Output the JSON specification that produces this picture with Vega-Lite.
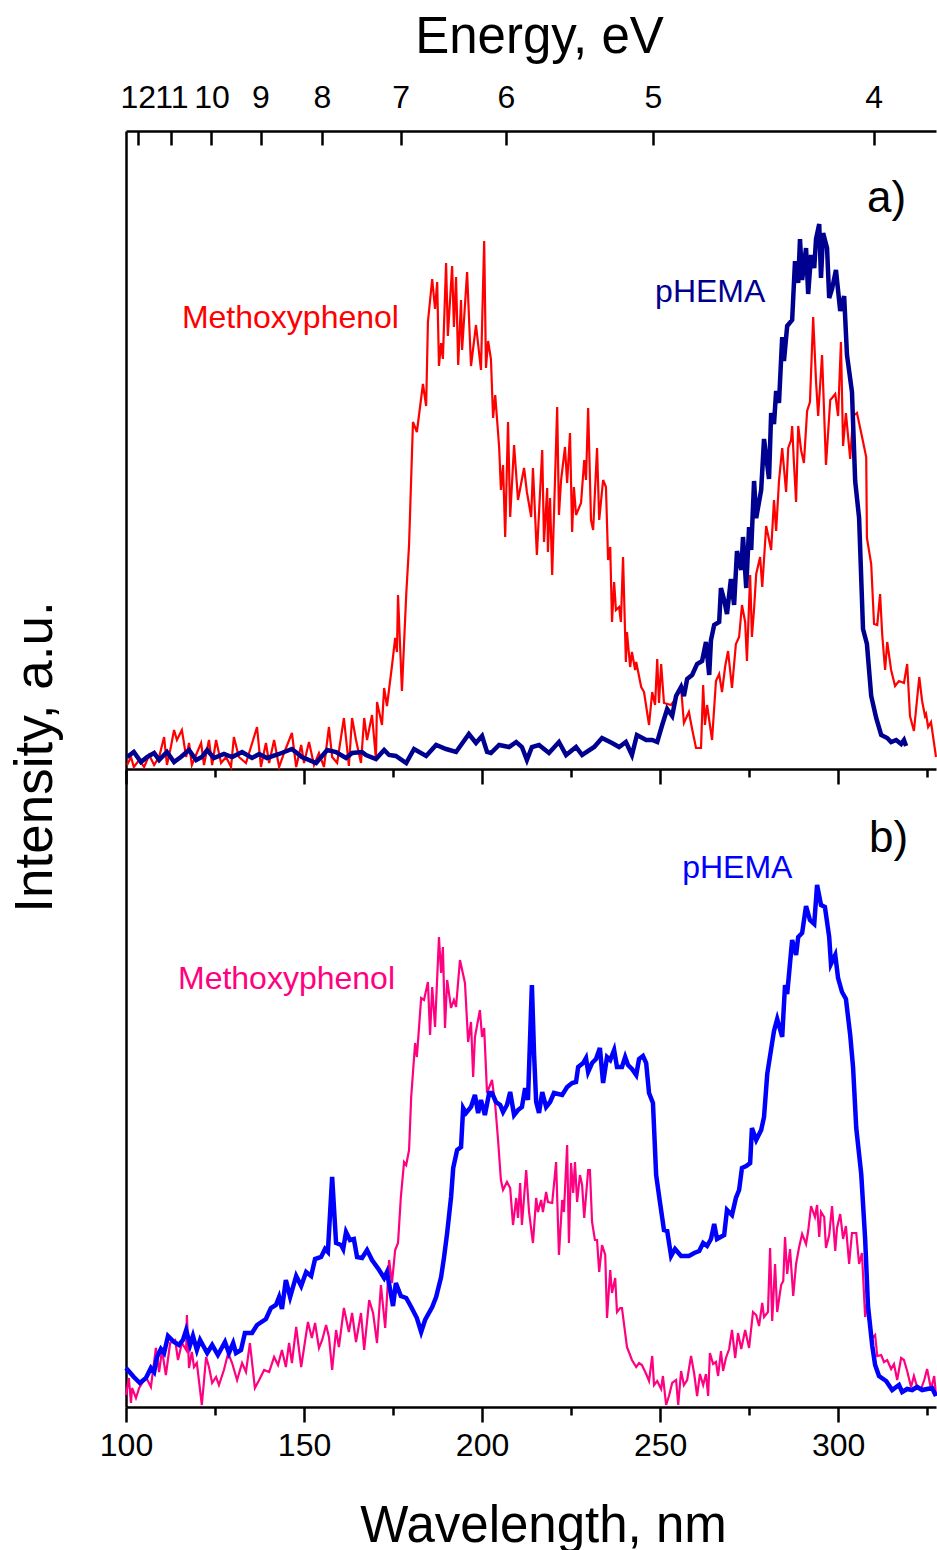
{
  "$schema": "https://vega.github.io/schema/vega-lite/v6.json",
  "padding": {"left": 10, "top": 11, "right": 0, "bottom": 0},
  "background": "white",
  "title": {"text": "Intensity, a.u.", "orient": "left", "anchor": "middle", "fontSize": 53, "fontWeight": "normal", "font": "Liberation Sans", "color": "black", "offset": 36, "dx": 24},
  "config": {
    "view": {"stroke": null},
    "font": "Liberation Sans",
    "axis": {"domainColor": "black", "tickColor": "black", "labelColor": "black", "titleColor": "black", "labelFont": "Liberation Sans", "titleFont": "Liberation Sans", "titleFontWeight": "normal", "grid": false, "labelFlush": false, "labelOverlap": false, "labelBound": false, "domainWidth": 2.5, "tickWidth": 2.5}
  },
  "datasets": {
    "meth_a": [
      {"nm":100.3,"i":4},{"nm":101.4,"i":12},{"nm":102.2,"i":2},{"nm":103.7,"i":9},{"nm":105.1,"i":2},{"nm":106.5,"i":14},{"nm":107.9,"i":4},{"nm":109.3,"i":12},{"nm":110.7,"i":32},{"nm":111.5,"i":4},{"nm":112.6,"i":22},{"nm":113.5,"i":39},{"nm":114.3,"i":29},{"nm":115.7,"i":39},{"nm":116.9,"i":12},{"nm":117.7,"i":26},{"nm":118.5,"i":4},{"nm":119.9,"i":16},{"nm":121.1,"i":26},{"nm":121.9,"i":4},{"nm":123.3,"i":29},{"nm":124.2,"i":4},{"nm":125.3,"i":29},{"nm":126.7,"i":6},{"nm":128.1,"i":12},{"nm":129.5,"i":2},{"nm":130.3,"i":32},{"nm":131.7,"i":12},{"nm":133.7,"i":6},{"nm":135.1,"i":22},{"nm":136.8,"i":42},{"nm":137.9,"i":2},{"nm":139.3,"i":26},{"nm":140.2,"i":6},{"nm":141.6,"i":29},{"nm":143.0,"i":2},{"nm":144.4,"i":16},{"nm":146.6,"i":36},{"nm":147.8,"i":2},{"nm":149.2,"i":24},{"nm":150.0,"i":6},{"nm":151.4,"i":27},{"nm":152.8,"i":4},{"nm":154.2,"i":16},{"nm":155.6,"i":2},{"nm":157.0,"i":42},{"nm":157.9,"i":12},{"nm":159.3,"i":6},{"nm":161.2,"i":51},{"nm":162.6,"i":3},{"nm":163.5,"i":51},{"nm":164.6,"i":29},{"nm":166.0,"i":6},{"nm":166.9,"i":51},{"nm":167.7,"i":29},{"nm":169.1,"i":54},{"nm":170.2,"i":10},{"nm":170.5,"i":67},{"nm":171.9,"i":44},{"nm":172.5,"i":81},{"nm":173.3,"i":63},{"nm":174.7,"i":103},{"nm":175.6,"i":131},{"nm":176.1,"i":117},{"nm":176.4,"i":174},{"nm":177.5,"i":78},{"nm":178.7,"i":174},{"nm":179.5,"i":224},{"nm":180.6,"i":347},{"nm":181.7,"i":337},{"nm":183.4,"i":385},{"nm":184.3,"i":363},{"nm":184.8,"i":447},{"nm":186.0,"i":490},{"nm":186.8,"i":460},{"nm":187.4,"i":487},{"nm":187.9,"i":403},{"nm":188.5,"i":426},{"nm":189.0,"i":410},{"nm":189.9,"i":506},{"nm":190.4,"i":433},{"nm":191.6,"i":503},{"nm":192.1,"i":442},{"nm":192.7,"i":492},{"nm":193.3,"i":404},{"nm":194.1,"i":469},{"nm":194.4,"i":419},{"nm":195.8,"i":497},{"nm":196.9,"i":403},{"nm":198.3,"i":444},{"nm":199.7,"i":399},{"nm":200.6,"i":528},{"nm":201.1,"i":401},{"nm":201.7,"i":428},{"nm":202.5,"i":410},{"nm":203.1,"i":351},{"nm":203.7,"i":374},{"nm":204.8,"i":322},{"nm":205.3,"i":279},{"nm":205.9,"i":304},{"nm":206.5,"i":232},{"nm":207.3,"i":347},{"nm":207.9,"i":252},{"nm":209.0,"i":324},{"nm":210.1,"i":269},{"nm":211.8,"i":301},{"nm":212.6,"i":277},{"nm":213.8,"i":252},{"nm":214.3,"i":301},{"nm":215.4,"i":214},{"nm":216.9,"i":319},{"nm":217.4,"i":227},{"nm":218.3,"i":281},{"nm":218.5,"i":217},{"nm":219.1,"i":271},{"nm":219.7,"i":194},{"nm":221.1,"i":362},{"nm":221.6,"i":254},{"nm":222.2,"i":289},{"nm":223.3,"i":322},{"nm":223.9,"i":286},{"nm":224.7,"i":336},{"nm":225.3,"i":237},{"nm":225.8,"i":282},{"nm":226.4,"i":254},{"nm":227.8,"i":266},{"nm":228.7,"i":309},{"nm":229.2,"i":289},{"nm":229.8,"i":361},{"nm":230.6,"i":249},{"nm":231.2,"i":239},{"nm":232.3,"i":321},{"nm":232.9,"i":249},{"nm":234.0,"i":289},{"nm":234.8,"i":282},{"nm":235.4,"i":209},{"nm":236.0,"i":222},{"nm":236.5,"i":147},{"nm":237.1,"i":187},{"nm":237.6,"i":159},{"nm":238.5,"i":162},{"nm":239.0,"i":147},{"nm":239.6,"i":212},{"nm":240.4,"i":107},{"nm":240.7,"i":137},{"nm":241.6,"i":102},{"nm":242.1,"i":117},{"nm":243.0,"i":99},{"nm":243.3,"i":107},{"nm":244.7,"i":82},{"nm":245.5,"i":77},{"nm":246.9,"i":44},{"nm":247.8,"i":77},{"nm":248.6,"i":64},{"nm":249.2,"i":110},{"nm":249.7,"i":66},{"nm":250.3,"i":105},{"nm":251.1,"i":66},{"nm":253.1,"i":64},{"nm":254.5,"i":71},{"nm":255.9,"i":81},{"nm":256.7,"i":46},{"nm":258.1,"i":57},{"nm":259.0,"i":40},{"nm":260.1,"i":21},{"nm":261.5,"i":21},{"nm":262.1,"i":84},{"nm":262.6,"i":44},{"nm":263.2,"i":64},{"nm":264.6,"i":29},{"nm":265.7,"i":88},{"nm":266.6,"i":95},{"nm":267.4,"i":77},{"nm":268.3,"i":103},{"nm":269.1,"i":118},{"nm":270.2,"i":81},{"nm":271.3,"i":125},{"nm":272.2,"i":132},{"nm":273.0,"i":164},{"nm":273.9,"i":147},{"nm":274.4,"i":108},{"nm":275.3,"i":194},{"nm":275.8,"i":132},{"nm":276.4,"i":160},{"nm":277.0,"i":195},{"nm":278.1,"i":212},{"nm":278.7,"i":182},{"nm":279.8,"i":243},{"nm":280.1,"i":238},{"nm":281.2,"i":219},{"nm":282.0,"i":269},{"nm":282.6,"i":238},{"nm":283.4,"i":288},{"nm":284.3,"i":321},{"nm":285.4,"i":277},{"nm":286.0,"i":321},{"nm":286.8,"i":329},{"nm":287.1,"i":343},{"nm":287.6,"i":306},{"nm":288.2,"i":267},{"nm":288.8,"i":343},{"nm":289.6,"i":319},{"nm":290.4,"i":306},{"nm":291.3,"i":358},{"nm":292.1,"i":367},{"nm":293.0,"i":452},{"nm":293.8,"i":388},{"nm":294.4,"i":353},{"nm":295.5,"i":414},{"nm":296.6,"i":304},{"nm":297.8,"i":369},{"nm":298.3,"i":371},{"nm":299.2,"i":375},{"nm":300.0,"i":353},{"nm":300.8,"i":427},{"nm":301.4,"i":323},{"nm":302.2,"i":356},{"nm":303.4,"i":310},{"nm":304.2,"i":353},{"nm":305.3,"i":356},{"nm":306.5,"i":336},{"nm":307.9,"i":312},{"nm":308.1,"i":231},{"nm":309.3,"i":205},{"nm":310.1,"i":145},{"nm":311.0,"i":144},{"nm":311.8,"i":175},{"nm":312.4,"i":134},{"nm":313.2,"i":99},{"nm":313.8,"i":127},{"nm":314.9,"i":99},{"nm":316.0,"i":83},{"nm":317.1,"i":88},{"nm":318.5,"i":86},{"nm":319.4,"i":105},{"nm":320.2,"i":53},{"nm":321.3,"i":38},{"nm":322.8,"i":92},{"nm":323.6,"i":68},{"nm":324.4,"i":53},{"nm":324.7,"i":55},{"nm":325.3,"i":42},{"nm":326.1,"i":47},{"nm":327.5,"i":12}
    ],
    "phema_a": [
      {"nm":100.3,"i":12},{"nm":102.2,"i":17},{"nm":104.2,"i":7},{"nm":105.9,"i":12},{"nm":107.9,"i":16},{"nm":109.3,"i":9},{"nm":111.5,"i":17},{"nm":113.5,"i":7},{"nm":115.4,"i":12},{"nm":117.7,"i":19},{"nm":119.7,"i":9},{"nm":121.3,"i":12},{"nm":122.8,"i":19},{"nm":124.7,"i":11},{"nm":127.5,"i":15},{"nm":129.8,"i":12},{"nm":132.6,"i":17},{"nm":135.4,"i":11},{"nm":137.4,"i":15},{"nm":139.6,"i":11},{"nm":143.0,"i":15},{"nm":146.6,"i":20},{"nm":149.4,"i":12},{"nm":153.4,"i":6},{"nm":156.5,"i":19},{"nm":159.0,"i":17},{"nm":161.8,"i":11},{"nm":163.5,"i":16},{"nm":166.3,"i":17},{"nm":167.4,"i":14},{"nm":170.2,"i":10},{"nm":172.5,"i":19},{"nm":173.9,"i":14},{"nm":175.8,"i":13},{"nm":178.7,"i":6},{"nm":180.9,"i":20},{"nm":184.3,"i":13},{"nm":187.1,"i":24},{"nm":189.9,"i":20},{"nm":192.7,"i":17},{"nm":194.9,"i":28},{"nm":196.3,"i":35},{"nm":198.3,"i":26},{"nm":200.0,"i":33},{"nm":201.4,"i":17},{"nm":202.5,"i":16},{"nm":204.8,"i":24},{"nm":207.6,"i":22},{"nm":209.6,"i":27},{"nm":211.2,"i":22},{"nm":212.6,"i":9},{"nm":214.0,"i":22},{"nm":216.0,"i":24},{"nm":218.8,"i":16},{"nm":221.6,"i":27},{"nm":223.6,"i":14},{"nm":226.4,"i":22},{"nm":228.1,"i":14},{"nm":231.5,"i":22},{"nm":233.7,"i":31},{"nm":236.5,"i":26},{"nm":238.5,"i":22},{"nm":240.4,"i":27},{"nm":242.1,"i":14},{"nm":243.5,"i":34},{"nm":246.1,"i":29},{"nm":247.8,"i":29},{"nm":249.2,"i":27},{"nm":250.6,"i":44},{"nm":252.0,"i":60},{"nm":253.4,"i":53},{"nm":254.5,"i":73},{"nm":255.9,"i":82},{"nm":256.7,"i":73},{"nm":257.6,"i":90},{"nm":259.0,"i":94},{"nm":260.4,"i":105},{"nm":261.8,"i":108},{"nm":262.9,"i":127},{"nm":263.8,"i":94},{"nm":264.3,"i":129},{"nm":265.2,"i":144},{"nm":266.6,"i":147},{"nm":267.1,"i":181},{"nm":268.0,"i":169},{"nm":268.8,"i":155},{"nm":269.9,"i":190},{"nm":270.8,"i":164},{"nm":271.6,"i":218},{"nm":272.8,"i":199},{"nm":273.3,"i":232},{"nm":274.2,"i":181},{"nm":275.0,"i":242},{"nm":275.6,"i":219},{"nm":276.4,"i":288},{"nm":277.0,"i":251},{"nm":278.4,"i":279},{"nm":279.2,"i":330},{"nm":280.6,"i":290},{"nm":281.2,"i":356},{"nm":282.0,"i":345},{"nm":282.6,"i":378},{"nm":283.4,"i":366},{"nm":284.3,"i":432},{"nm":284.8,"i":408},{"nm":285.7,"i":443},{"nm":287.1,"i":449},{"nm":287.9,"i":508},{"nm":288.8,"i":486},{"nm":289.3,"i":530},{"nm":289.9,"i":489},{"nm":291.0,"i":521},{"nm":291.6,"i":475},{"nm":292.4,"i":514},{"nm":293.3,"i":501},{"nm":293.8,"i":530},{"nm":294.7,"i":545},{"nm":295.2,"i":491},{"nm":295.8,"i":536},{"nm":296.9,"i":521},{"nm":297.5,"i":471},{"nm":298.3,"i":480},{"nm":299.4,"i":499},{"nm":300.6,"i":458},{"nm":301.7,"i":473},{"nm":302.5,"i":414},{"nm":303.9,"i":377},{"nm":304.8,"i":288},{"nm":305.9,"i":251},{"nm":307.0,"i":140},{"nm":308.1,"i":125},{"nm":309.3,"i":73},{"nm":310.7,"i":51},{"nm":312.1,"i":34},{"nm":313.8,"i":31},{"nm":314.9,"i":27},{"nm":316.3,"i":29},{"nm":317.7,"i":25},{"nm":318.5,"i":29},{"nm":319.1,"i":23}
    ],
    "meth_b": [
      {"nm":100.0,"i":12},{"nm":100.8,"i":29},{"nm":101.4,"i":4},{"nm":101.7,"i":19},{"nm":102.8,"i":9},{"nm":103.7,"i":19},{"nm":105.6,"i":30},{"nm":107.0,"i":20},{"nm":108.4,"i":59},{"nm":109.3,"i":35},{"nm":110.1,"i":57},{"nm":111.2,"i":32},{"nm":112.4,"i":64},{"nm":113.8,"i":67},{"nm":114.6,"i":47},{"nm":115.7,"i":64},{"nm":116.9,"i":57},{"nm":117.1,"i":92},{"nm":117.7,"i":39},{"nm":118.5,"i":55},{"nm":119.1,"i":40},{"nm":119.9,"i":44},{"nm":121.3,"i":2},{"nm":122.5,"i":50},{"nm":123.3,"i":40},{"nm":124.2,"i":24},{"nm":125.3,"i":30},{"nm":126.1,"i":22},{"nm":127.5,"i":37},{"nm":128.7,"i":54},{"nm":129.8,"i":44},{"nm":131.2,"i":27},{"nm":132.6,"i":44},{"nm":133.7,"i":35},{"nm":134.8,"i":64},{"nm":136.2,"i":19},{"nm":137.4,"i":27},{"nm":138.8,"i":37},{"nm":140.2,"i":35},{"nm":141.6,"i":50},{"nm":142.7,"i":42},{"nm":143.8,"i":57},{"nm":144.9,"i":40},{"nm":145.8,"i":64},{"nm":146.6,"i":44},{"nm":147.8,"i":80},{"nm":149.2,"i":40},{"nm":150.0,"i":59},{"nm":151.1,"i":85},{"nm":152.2,"i":69},{"nm":153.1,"i":84},{"nm":154.2,"i":59},{"nm":155.1,"i":67},{"nm":156.2,"i":82},{"nm":157.0,"i":70},{"nm":157.9,"i":37},{"nm":159.0,"i":77},{"nm":159.8,"i":60},{"nm":161.2,"i":99},{"nm":162.6,"i":75},{"nm":163.5,"i":94},{"nm":164.6,"i":65},{"nm":166.0,"i":94},{"nm":166.9,"i":57},{"nm":168.3,"i":107},{"nm":169.4,"i":94},{"nm":170.5,"i":64},{"nm":171.6,"i":122},{"nm":172.8,"i":79},{"nm":173.9,"i":147},{"nm":174.7,"i":124},{"nm":175.6,"i":157},{"nm":176.4,"i":164},{"nm":177.2,"i":210},{"nm":178.1,"i":245},{"nm":178.7,"i":242},{"nm":179.5,"i":257},{"nm":180.1,"i":310},{"nm":181.2,"i":364},{"nm":181.7,"i":350},{"nm":182.9,"i":409},{"nm":183.7,"i":407},{"nm":184.8,"i":425},{"nm":185.4,"i":372},{"nm":186.0,"i":420},{"nm":186.8,"i":380},{"nm":187.9,"i":470},{"nm":188.5,"i":434},{"nm":189.0,"i":460},{"nm":189.6,"i":379},{"nm":190.2,"i":427},{"nm":191.3,"i":399},{"nm":192.1,"i":407},{"nm":192.7,"i":400},{"nm":193.8,"i":447},{"nm":195.2,"i":424},{"nm":196.1,"i":365},{"nm":196.9,"i":385},{"nm":197.5,"i":330},{"nm":198.0,"i":370},{"nm":199.4,"i":397},{"nm":200.0,"i":370},{"nm":200.6,"i":379},{"nm":201.4,"i":314},{"nm":202.8,"i":327},{"nm":203.7,"i":302},{"nm":204.5,"i":267},{"nm":205.3,"i":227},{"nm":205.9,"i":217},{"nm":207.0,"i":225},{"nm":207.9,"i":219},{"nm":208.7,"i":182},{"nm":209.6,"i":209},{"nm":210.1,"i":189},{"nm":210.7,"i":224},{"nm":211.2,"i":182},{"nm":212.4,"i":237},{"nm":213.2,"i":195},{"nm":214.3,"i":164},{"nm":215.2,"i":209},{"nm":215.7,"i":195},{"nm":216.6,"i":207},{"nm":217.1,"i":195},{"nm":218.0,"i":215},{"nm":218.5,"i":205},{"nm":219.7,"i":204},{"nm":220.8,"i":245},{"nm":221.6,"i":152},{"nm":222.5,"i":207},{"nm":223.0,"i":195},{"nm":223.9,"i":262},{"nm":224.4,"i":164},{"nm":225.0,"i":244},{"nm":225.6,"i":214},{"nm":226.1,"i":245},{"nm":226.7,"i":205},{"nm":227.5,"i":232},{"nm":228.1,"i":222},{"nm":228.7,"i":189},{"nm":229.8,"i":237},{"nm":230.3,"i":237},{"nm":230.9,"i":185},{"nm":231.7,"i":167},{"nm":232.3,"i":167},{"nm":232.9,"i":135},{"nm":233.7,"i":162},{"nm":234.6,"i":152},{"nm":235.1,"i":89},{"nm":236.0,"i":137},{"nm":236.5,"i":114},{"nm":237.4,"i":129},{"nm":237.9,"i":95},{"nm":238.8,"i":99},{"nm":239.3,"i":99},{"nm":240.7,"i":60},{"nm":242.1,"i":47},{"nm":243.3,"i":40},{"nm":244.1,"i":44},{"nm":244.9,"i":42},{"nm":246.1,"i":33},{"nm":246.9,"i":26},{"nm":247.8,"i":51},{"nm":248.3,"i":22},{"nm":249.2,"i":26},{"nm":250.3,"i":18},{"nm":250.8,"i":31},{"nm":251.7,"i":2},{"nm":252.5,"i":11},{"nm":253.4,"i":24},{"nm":254.5,"i":27},{"nm":255.1,"i":2},{"nm":255.9,"i":36},{"nm":256.7,"i":22},{"nm":257.6,"i":27},{"nm":258.7,"i":51},{"nm":259.6,"i":33},{"nm":260.4,"i":11},{"nm":261.2,"i":33},{"nm":262.1,"i":22},{"nm":262.9,"i":33},{"nm":263.5,"i":11},{"nm":264.0,"i":54},{"nm":264.9,"i":43},{"nm":265.7,"i":45},{"nm":266.3,"i":31},{"nm":267.1,"i":56},{"nm":267.7,"i":36},{"nm":268.5,"i":49},{"nm":269.4,"i":58},{"nm":270.2,"i":77},{"nm":271.1,"i":49},{"nm":271.9,"i":74},{"nm":272.8,"i":58},{"nm":273.9,"i":77},{"nm":275.0,"i":59},{"nm":276.1,"i":95},{"nm":277.0,"i":92},{"nm":277.8,"i":81},{"nm":278.7,"i":104},{"nm":279.2,"i":90},{"nm":280.3,"i":95},{"nm":280.9,"i":159},{"nm":281.5,"i":86},{"nm":282.3,"i":143},{"nm":282.9,"i":95},{"nm":284.0,"i":122},{"nm":284.6,"i":126},{"nm":285.1,"i":170},{"nm":285.7,"i":133},{"nm":286.5,"i":158},{"nm":287.4,"i":111},{"nm":288.2,"i":143},{"nm":289.0,"i":159},{"nm":289.9,"i":173},{"nm":291.0,"i":163},{"nm":291.6,"i":176},{"nm":292.4,"i":201},{"nm":293.5,"i":190},{"nm":294.1,"i":202},{"nm":294.7,"i":170},{"nm":295.2,"i":195},{"nm":296.1,"i":190},{"nm":296.6,"i":159},{"nm":297.5,"i":172},{"nm":298.3,"i":201},{"nm":299.2,"i":156},{"nm":299.7,"i":179},{"nm":300.6,"i":193},{"nm":301.4,"i":168},{"nm":302.2,"i":181},{"nm":303.1,"i":143},{"nm":303.9,"i":174},{"nm":305.1,"i":174},{"nm":305.9,"i":143},{"nm":306.7,"i":154},{"nm":307.6,"i":90},{"nm":308.4,"i":109},{"nm":309.3,"i":68},{"nm":310.4,"i":72},{"nm":311.0,"i":51},{"nm":312.1,"i":52},{"nm":312.9,"i":45},{"nm":313.8,"i":47},{"nm":314.9,"i":38},{"nm":315.7,"i":43},{"nm":316.6,"i":27},{"nm":317.7,"i":49},{"nm":318.5,"i":47},{"nm":319.4,"i":36},{"nm":320.5,"i":20},{"nm":321.3,"i":31},{"nm":322.2,"i":20},{"nm":323.3,"i":18},{"nm":324.2,"i":27},{"nm":325.0,"i":38},{"nm":326.1,"i":18},{"nm":327.0,"i":31},{"nm":327.5,"i":11}
    ],
    "phema_b": [
      {"nm":100.0,"i":39},{"nm":102.2,"i":30},{"nm":103.9,"i":24},{"nm":105.6,"i":29},{"nm":107.0,"i":39},{"nm":107.9,"i":35},{"nm":108.7,"i":50},{"nm":109.8,"i":58},{"nm":110.7,"i":54},{"nm":111.8,"i":71},{"nm":113.5,"i":65},{"nm":114.9,"i":62},{"nm":116.0,"i":67},{"nm":116.9,"i":77},{"nm":118.0,"i":62},{"nm":118.8,"i":71},{"nm":119.9,"i":57},{"nm":120.8,"i":67},{"nm":122.8,"i":54},{"nm":124.2,"i":62},{"nm":125.8,"i":52},{"nm":127.8,"i":65},{"nm":128.9,"i":54},{"nm":130.1,"i":64},{"nm":130.9,"i":54},{"nm":132.3,"i":57},{"nm":133.4,"i":74},{"nm":135.4,"i":74},{"nm":136.8,"i":82},{"nm":139.3,"i":88},{"nm":140.7,"i":99},{"nm":142.1,"i":102},{"nm":143.0,"i":110},{"nm":143.8,"i":98},{"nm":144.9,"i":127},{"nm":146.1,"i":110},{"nm":147.8,"i":131},{"nm":149.2,"i":121},{"nm":150.6,"i":135},{"nm":152.0,"i":131},{"nm":153.1,"i":148},{"nm":154.8,"i":150},{"nm":155.9,"i":158},{"nm":156.7,"i":155},{"nm":157.9,"i":230},{"nm":159.0,"i":164},{"nm":160.4,"i":162},{"nm":161.0,"i":158},{"nm":161.8,"i":175},{"nm":162.9,"i":167},{"nm":164.0,"i":168},{"nm":164.9,"i":150},{"nm":166.3,"i":149},{"nm":167.7,"i":157},{"nm":169.1,"i":147},{"nm":171.1,"i":137},{"nm":172.5,"i":129},{"nm":173.3,"i":135},{"nm":175.0,"i":101},{"nm":175.8,"i":124},{"nm":177.2,"i":111},{"nm":178.7,"i":109},{"nm":180.1,"i":100},{"nm":181.7,"i":89},{"nm":182.9,"i":75},{"nm":184.0,"i":87},{"nm":186.0,"i":100},{"nm":187.1,"i":110},{"nm":188.5,"i":130},{"nm":189.3,"i":149},{"nm":190.2,"i":174},{"nm":191.3,"i":210},{"nm":191.9,"i":239},{"nm":193.0,"i":257},{"nm":194.1,"i":260},{"nm":194.7,"i":299},{"nm":195.5,"i":294},{"nm":196.9,"i":300},{"nm":198.0,"i":312},{"nm":198.9,"i":294},{"nm":199.7,"i":307},{"nm":200.8,"i":292},{"nm":202.0,"i":314},{"nm":202.8,"i":314},{"nm":203.9,"i":305},{"nm":205.1,"i":302},{"nm":205.9,"i":295},{"nm":207.0,"i":302},{"nm":207.9,"i":315},{"nm":209.0,"i":292},{"nm":210.1,"i":297},{"nm":211.2,"i":300},{"nm":212.1,"i":319},{"nm":212.9,"i":307},{"nm":214.0,"i":422},{"nm":214.6,"i":354},{"nm":215.2,"i":305},{"nm":216.0,"i":294},{"nm":216.9,"i":315},{"nm":218.0,"i":300},{"nm":219.1,"i":305},{"nm":220.2,"i":314},{"nm":222.5,"i":312},{"nm":223.9,"i":320},{"nm":225.3,"i":324},{"nm":226.4,"i":325},{"nm":227.0,"i":340},{"nm":228.4,"i":344},{"nm":229.2,"i":349},{"nm":229.8,"i":335},{"nm":230.9,"i":344},{"nm":232.0,"i":348},{"nm":233.1,"i":359},{"nm":234.0,"i":324},{"nm":235.1,"i":350},{"nm":236.0,"i":347},{"nm":237.1,"i":357},{"nm":237.9,"i":340},{"nm":239.3,"i":340},{"nm":240.2,"i":350},{"nm":241.0,"i":342},{"nm":242.1,"i":338},{"nm":243.3,"i":332},{"nm":244.1,"i":348},{"nm":245.2,"i":351},{"nm":246.1,"i":344},{"nm":246.9,"i":314},{"nm":248.0,"i":304},{"nm":248.9,"i":232},{"nm":250.0,"i":204},{"nm":251.1,"i":177},{"nm":252.0,"i":176},{"nm":253.1,"i":151},{"nm":254.2,"i":158},{"nm":255.9,"i":151},{"nm":258.1,"i":151},{"nm":259.6,"i":154},{"nm":261.0,"i":156},{"nm":262.1,"i":164},{"nm":263.2,"i":161},{"nm":264.3,"i":168},{"nm":265.2,"i":183},{"nm":266.0,"i":168},{"nm":268.0,"i":172},{"nm":268.8,"i":197},{"nm":270.2,"i":192},{"nm":271.3,"i":209},{"nm":272.2,"i":217},{"nm":273.0,"i":239},{"nm":274.2,"i":241},{"nm":275.3,"i":244},{"nm":275.8,"i":279},{"nm":277.0,"i":267},{"nm":278.4,"i":277},{"nm":279.2,"i":290},{"nm":280.1,"i":333},{"nm":281.2,"i":358},{"nm":282.0,"i":376},{"nm":282.9,"i":388},{"nm":284.3,"i":370},{"nm":285.1,"i":422},{"nm":285.7,"i":413},{"nm":287.1,"i":467},{"nm":288.2,"i":452},{"nm":288.8,"i":470},{"nm":289.9,"i":474},{"nm":291.0,"i":501},{"nm":292.1,"i":487},{"nm":293.3,"i":483},{"nm":294.1,"i":522},{"nm":295.2,"i":502},{"nm":296.3,"i":500},{"nm":297.5,"i":470},{"nm":298.0,"i":443},{"nm":299.2,"i":452},{"nm":300.0,"i":429},{"nm":301.1,"i":415},{"nm":302.2,"i":408},{"nm":303.4,"i":372},{"nm":304.2,"i":340},{"nm":305.1,"i":279},{"nm":306.5,"i":233},{"nm":307.6,"i":168},{"nm":308.4,"i":101},{"nm":309.6,"i":61},{"nm":310.4,"i":42},{"nm":311.5,"i":31},{"nm":313.5,"i":26},{"nm":315.2,"i":17},{"nm":317.1,"i":22},{"nm":318.0,"i":15},{"nm":319.4,"i":18},{"nm":320.8,"i":17},{"nm":322.2,"i":20},{"nm":323.6,"i":17},{"nm":325.0,"i":18},{"nm":326.4,"i":19},{"nm":327.5,"i":11}
    ]
  },
  "vconcat": [
    {
      "width": 810,
      "height": 638,
      "layer": [
        {
          "encoding": {
            "x": {"field": "nm", "type": "quantitative", "scale": {"domain": [100, 327.5], "nice": false, "zero": false},
              "axis": {"orient": "bottom", "values": [100,125,150,175,200,225,250,275,300,325], "labels": false, "title": null,
                "tickSize": {"condition": {"test": "datum.value % 50 === 0", "value": 15}, "value": 8}}},
            "y": {"field": "i", "type": "quantitative", "scale": {"domain": [0, 638], "nice": false, "zero": false},
              "axis": {"ticks": false, "labels": false, "title": null, "domain": true}}
          },
          "layer": [
            {"data": {"name": "meth_a"}, "mark": {"type": "line", "color": "#FF0000", "strokeWidth": 2.2}},
            {"data": {"name": "phema_a"}, "mark": {"type": "line", "color": "#000090", "strokeWidth": 4.5}},
            {"data": {"values": [{"nm": 115.7, "i": 441, "label": "Methoxyphenol"}]}, "mark": {"type": "text", "color": "#FF0000", "fontSize": 32, "align": "left", "baseline": "alphabetic", "font": "Liberation Sans"}, "encoding": {"text": {"field": "label"}}},
            {"data": {"values": [{"nm": 248.6, "i": 467, "label": "pHEMA"}]}, "mark": {"type": "text", "color": "#000090", "fontSize": 32, "align": "left", "baseline": "alphabetic", "font": "Liberation Sans"}, "encoding": {"text": {"field": "label"}}},
            {"data": {"values": [{"nm": 308.1, "i": 557, "label": "a)"}]}, "mark": {"type": "text", "color": "black", "fontSize": 44, "align": "left", "baseline": "alphabetic", "font": "Liberation Sans"}, "encoding": {"text": {"field": "label"}}}
          ]
        },
        {
          "data": {"values": [{"E": 4},{"E": 5},{"E": 6},{"E": 7},{"E": 8},{"E": 9},{"E": 10},{"E": 11},{"E": 12}]},
          "mark": {"type": "point", "opacity": 0},
          "encoding": {
            "x": {"field": "E", "type": "quantitative", "scale": {"type": "pow", "exponent": -1, "domain": [12.4, 3.7863], "nice": false, "zero": false},
              "axis": {"orient": "top", "values": [4,5,6,7,8,9,10,11,12], "format": "d", "tickSize": -14, "labelPadding": 31, "labelFontSize": 32, "title": "Energy, eV", "titleFontSize": 51, "titlePadding": 18, "titleX": 413, "titleAlign": "center", "domain": true}}
          }
        }
      ],
      "resolve": {"scale": {"x": "independent"}, "axis": {"x": "independent"}}
    },
    {
      "width": 810,
      "height": 638,
      "encoding": {
        "x": {"field": "nm", "type": "quantitative", "scale": {"domain": [100, 327.5], "nice": false, "zero": false},
          "axis": {"orient": "bottom", "values": [100,125,150,175,200,225,250,275,300,325], "labelExpr": "datum.value % 50 === 0 ? datum.label : ''", "labelFontSize": 32, "labelPadding": 8, "title": "Wavelength, nm", "titleFontSize": 51, "titlePadding": 40, "titleX": 417, "titleAlign": "center",
            "tickSize": {"condition": {"test": "datum.value % 50 === 0", "value": 15}, "value": 8}}},
        "y": {"field": "i", "type": "quantitative", "scale": {"domain": [0, 638], "nice": false, "zero": false},
          "axis": {"ticks": false, "labels": false, "title": null, "domain": true}}
      },
      "layer": [
        {"data": {"name": "meth_b"}, "mark": {"type": "line", "color": "#FF0080", "strokeWidth": 2.2}},
        {"data": {"name": "phema_b"}, "mark": {"type": "line", "color": "#0000FF", "strokeWidth": 4.5}},
        {"data": {"values": [{"nm": 114.6, "i": 418, "label": "Methoxyphenol"}]}, "mark": {"type": "text", "color": "#FF0080", "fontSize": 32, "align": "left", "baseline": "alphabetic", "font": "Liberation Sans"}, "encoding": {"text": {"field": "label"}}},
        {"data": {"values": [{"nm": 256.2, "i": 529, "label": "pHEMA"}]}, "mark": {"type": "text", "color": "#0000FF", "fontSize": 32, "align": "left", "baseline": "alphabetic", "font": "Liberation Sans"}, "encoding": {"text": {"field": "label"}}},
        {"data": {"values": [{"nm": 308.7, "i": 555, "label": "b)"}]}, "mark": {"type": "text", "color": "black", "fontSize": 44, "align": "left", "baseline": "alphabetic", "font": "Liberation Sans"}, "encoding": {"text": {"field": "label"}}}
      ]
    }
  ],
  "spacing": 0,
  "bounds": "flush"
}
